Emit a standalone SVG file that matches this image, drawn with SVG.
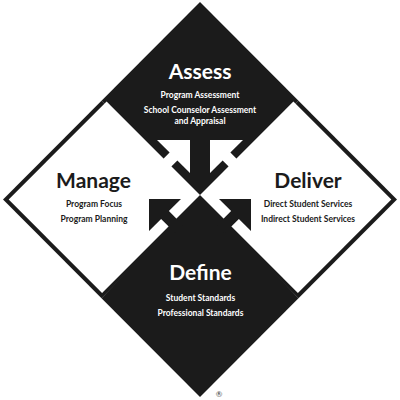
<svg xmlns="http://www.w3.org/2000/svg" width="400" height="400" viewBox="0 0 400 400">
<style>
.blk{fill:#1b1b1b}
.wht{fill:#ffffff}
.h{font-family:Lato,"Open Sans",sans-serif;font-weight:700;font-size:21px;text-anchor:middle}
.s{font-family:Lato,"Open Sans",sans-serif;font-weight:700;font-size:8.5px;text-anchor:middle}
.onb{fill:#ffffff}
.onw{fill:#1b1b1b}
</style>
<rect width="400" height="400" fill="#ffffff"/>
<g id="assess">
<polygon class="blk" points="200,2 298.5,100.75 200,199.5 101.5,100.75"/>
<text class="h onb" x="200" y="79">Assess</text>
<text class="s onb" x="200" y="97.5">Program Assessment</text>
<text class="s onb" x="200" y="112.5">School Counselor Assessment</text>
<text class="s onb" x="200" y="123.5">and Appraisal</text>
</g>
<g id="define">
<polygon class="blk" points="200,195 298.5,298.25 200,397 101.5,298.25"/>
<text class="h onb" x="200.5" y="279.5">Define</text>
<text class="s onb" x="200.5" y="301">Student Standards</text>
<text class="s onb" x="200.5" y="316">Professional Standards</text>
</g>
<g id="manage">
<polygon class="blk" points="3,199.5 101.5,100.75 200,199.5 101.5,298.25"/>
<polygon class="wht" points="8.7,199.5 106.6,101.6 200,195 102.1,292.9"/>
<text class="h onw" x="93.5" y="187.5">Manage</text>
<text class="s onw" x="94" y="207">Program Focus</text>
<text class="s onw" x="94" y="221.5">Program Planning</text>
</g>
<g id="deliver">
<polygon class="blk" points="397,199.5 298.5,100.75 200,199.5 298.5,298.25"/>
<polygon class="wht" points="391.3,199.5 293.4,101.6 200,195 297.9,292.9"/>
<text class="h onw" x="308" y="187.5">Deliver</text>
<text class="s onw" x="308" y="207">Direct Student Services</text>
<text class="s onw" x="308" y="221.5">Indirect Student Services</text>
</g>
<g id="connectors">
<polygon class="wht" points="190,140 190,173 177.39,160.39 163.25,174.53 155.47,166.75 169.61,152.61 157,140"/>
<polygon class="wht" points="210,140 210,173 222.61,160.39 236.75,174.53 244.53,166.75 230.39,152.61 243,140"/>
<polygon class="blk" points="149,199 181,199 168.89,211.11 183.03,225.25 175.25,233.03 161.11,218.89 149,231"/>
<polygon class="blk" points="251,199 219,199 231.11,211.11 216.97,225.25 224.75,233.03 238.89,218.89 251,231"/>
</g>
<text x="219" y="397" font-family="Lato,'Open Sans',sans-serif" font-size="8" fill="#444" text-anchor="middle">®</text>
</svg>
